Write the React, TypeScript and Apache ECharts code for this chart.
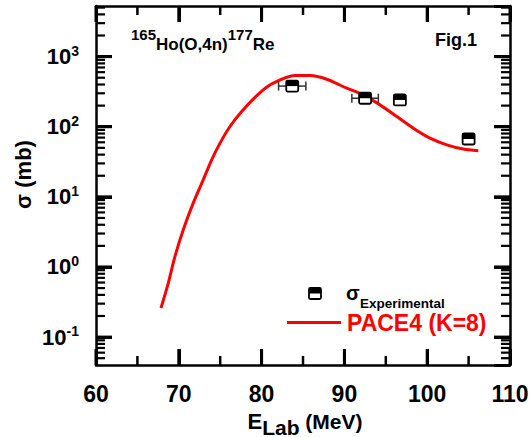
import React, { useEffect, useRef } from "react";
import * as echarts from "echarts";

// PACE4 (K=8) calculation
const curveE = [67.85, 68.73, 69.54, 70.54, 71.75, 72.95, 73.97, 74.98, 76.18, 77.6, 79.81, 81.41, 84.03, 85.85, 87.86, 90.28, 92.28, 94.3, 96.32, 98.32, 100.34, 102.36, 104.36, 106.17];
const curveSigma = [0.26, 0.59, 1.42, 3.4, 8.2, 17.5, 33.8, 58.4, 100.7, 165, 306, 418, 536, 536, 476, 355, 285, 205, 140, 95.5, 68.8, 55.2, 48, 45.4];

// Experimental cross sections
const expE = [83.7, 92.5, 96.7, 105.0];
const expSigma = [380, 255, 241, 66.8];
const expErr = [1.65, 1.6, 0, 0];

// Axes
const xMin = 60;
const xMax = 110;
const xInterval = 10;
const yMin = 0.04;
const yMax = 5270;
const xMajorTicks = [60, 70, 80, 90, 100, 110];
const xMinorTicks = [65, 75, 85, 95, 105];
const yMajorTicks = [0.1, 1, 10, 100, 1000];
const yMinorMantissas = [2, 3, 4, 5, 6, 7, 8, 9];
const yDecades = [0.01, 0.1, 1, 10, 100, 1000];

const FONT = "'Liberation Sans', Arial, sans-serif";

export default function App() {
  const ref = useRef<HTMLDivElement>(null);

  useEffect(() => {
    if (!ref.current) return;
    const chart = echarts.init(ref.current, undefined, { renderer: "svg" });

    const line = () => ({ show: true, onZero: false, lineStyle: { color: "#000", width: 2.5 } });
    const tick = () => ({ show: true, inside: true, length: 16, lineStyle: { color: "#000", width: 3 } });

    const yMinorTicks: number[] = [];
    yDecades.forEach((d) => {
      yMinorMantissas.forEach((m) => {
        const v = m * d;
        if (v > yMin && v < yMax) yMinorTicks.push(v);
      });
    });

    const option: any = {
      animation: false,
      grid: { left: 96, right: 20, top: 6, bottom: 72, containLabel: false, outerBoundsMode: "none" },
      xAxis: [
        {
          type: "value",
          min: xMin,
          max: xMax,
          interval: xInterval,
          position: "bottom",
          splitLine: { show: false },
          axisLine: line(),
          axisTick: tick(),
          name: "{e|E}{s|Lab}{m| (MeV)}",
          nameLocation: "middle",
          nameGap: 44,
          nameMoveOverlap: false,
          nameTextStyle: {
            padding: [0, 0, 0, 4],
            rich: {
              e: { fontFamily: FONT, fontWeight: "bold", fontSize: 22, lineHeight: 24, color: "#000" },
              s: { fontFamily: FONT, fontWeight: "bold", fontSize: 21, lineHeight: 24, padding: [12, 0, 0, 0], color: "#000" },
              m: { fontFamily: FONT, fontWeight: "bold", fontSize: 21, lineHeight: 24, color: "#000" },
            },
          },
          axisLabel: {
            show: true,
            margin: 17,
            fontFamily: FONT,
            fontWeight: "bold",
            fontSize: 23,
            color: "#000",
          },
        },
        {
          type: "value",
          min: xMin,
          max: xMax,
          interval: xInterval,
          position: "top",
          splitLine: { show: false },
          axisLine: line(),
          axisTick: tick(),
          axisLabel: { show: false },
        },
      ],
      yAxis: [
        {
          type: "log",
          logBase: 10,
          min: yMin,
          max: yMax,
          position: "left",
          splitLine: { show: false },
          axisLine: line(),
          axisTick: tick(),
          name: "σ (mb)",
          nameLocation: "middle",
          nameRotate: 90,
          nameGap: 62,
          nameMoveOverlap: false,
          nameTextStyle: {
            fontFamily: FONT,
            fontWeight: "bold",
            fontSize: 22,
            color: "#000",
            padding: [0, 0, 0, 22],
          },
          axisLabel: {
            show: true,
            margin: 17,
            showMinLabel: false,
            showMaxLabel: false,
            formatter: (v: number) => {
              const l = Math.log10(v);
              const r = Math.round(l);
              if (Math.abs(l - r) > 0.01) return "";
              return "{b|10}{s|" + r + "}";
            },
            rich: {
              b: { fontFamily: FONT, fontWeight: "bold", fontSize: 22, lineHeight: 22, color: "#000" },
              s: { fontFamily: FONT, fontWeight: "bold", fontSize: 14, lineHeight: 14, padding: [0, 0, 12, 0], color: "#000" },
            },
          },
        },
        {
          type: "log",
          logBase: 10,
          min: yMin,
          max: yMax,
          position: "right",
          splitLine: { show: false },
          axisLine: line(),
          axisTick: tick(),
          axisLabel: { show: false },
        },
      ],
      series: [
        {
          type: "custom",
          data: [[85, 10]],
          encode: { x: 0, y: 1 },
          z: 5,
          renderItem: (params: any, api: any) => {
            const children: any[] = [];
            const bl = api.coord([xMin, yMin]);
            const tr = api.coord([xMax, yMax]);
            const xt = (v: number, len: number, w: number) => {
              const x = api.coord([v, yMin])[0];
              children.push({ type: "rect", shape: { x: x - w / 2, y: bl[1] - len, width: w, height: len }, style: { fill: "#000" } });
              children.push({ type: "rect", shape: { x: x - w / 2, y: tr[1], width: w, height: len }, style: { fill: "#000" } });
            };
            const yt = (v: number, len: number, w: number) => {
              const y = api.coord([xMin, v])[1];
              children.push({ type: "rect", shape: { x: bl[0], y: y - w / 2, width: len, height: w }, style: { fill: "#000" } });
              children.push({ type: "rect", shape: { x: tr[0] - len, y: y - w / 2, width: len, height: w }, style: { fill: "#000" } });
            };
            xMajorTicks.forEach((v) => xt(v, 16, 3));
            xMinorTicks.forEach((v) => xt(v, 9, 2.5));
            yMajorTicks.forEach((v) => yt(v, 16, 3));
            yMinorTicks.forEach((v) => yt(v, 9, 2.2));
            return { type: "group", children };
          },
        },
        {
          type: "line",
          data: curveE.map((e, i) => [e, curveSigma[i]]),
          smooth: 0.3,
          showSymbol: false,
          symbol: "none",
          lineStyle: { color: "#ff0000", width: 3 },
          z: 3,
        },
        {
          type: "custom",
          data: expE.map((e, i) => [e, expSigma[i], expErr[i]]),
          encode: { x: 0, y: 1 },
          z: 4,
          renderItem: (params: any, api: any) => {
            const e = api.value(0) as number;
            const s = api.value(1) as number;
            const err = api.value(2) as number;
            const p = api.coord([e, s]);
            const w = 12;
            const h = 11;
            const children: any[] = [];
            if (err > 0) {
              const l = api.coord([e - err, s]);
              const r = api.coord([e + err, s]);
              const st = { stroke: "#333", lineWidth: 1.5 };
              children.push({ type: "line", shape: { x1: l[0], y1: p[1], x2: r[0], y2: p[1] }, style: st });
              children.push({ type: "line", shape: { x1: l[0], y1: p[1] - 4.5, x2: l[0], y2: p[1] + 4.5 }, style: st });
              children.push({ type: "line", shape: { x1: r[0], y1: p[1] - 4.5, x2: r[0], y2: p[1] + 4.5 }, style: st });
            }
            children.push({
              type: "rect",
              shape: { x: p[0] - w / 2, y: p[1] - h / 2, width: w, height: h, r: 1.5 },
              style: { fill: "#fff", stroke: "#000", lineWidth: 1.8 },
            });
            children.push({
              type: "rect",
              shape: { x: p[0] - w / 2, y: p[1] - h / 2, width: w, height: h * 0.5 },
              style: { fill: "#000" },
            });
            return { type: "group", children };
          },
        },
      ],
      graphic: [
        {
          type: "text",
          left: 131,
          top: 27,
          style: {
            text: "{s|165}{m|Ho(O,4n)}{s|177}{m|Re}",
            rich: {
              m: { fontFamily: FONT, fontWeight: "bold", fontSize: 17, lineHeight: 18, fill: "#000" },
              s: { fontFamily: FONT, fontWeight: "bold", fontSize: 15, lineHeight: 15, padding: [0, 0, 20, 0], fill: "#000" },
            },
          },
        },
        {
          type: "text",
          left: 435,
          top: 31,
          style: { text: "Fig.1", fontFamily: FONT, fontWeight: "bold", fontSize: 18, fill: "#000" },
        },
        {
          type: "group",
          children: [
            { type: "rect", shape: { x: 309, y: 288, width: 12, height: 11, r: 1.5 }, style: { fill: "#fff", stroke: "#000", lineWidth: 1.8 } },
            { type: "rect", shape: { x: 309, y: 288, width: 12, height: 5.5 }, style: { fill: "#000" } },
          ],
        },
        {
          type: "text",
          x: 346,
          y: 293,
          style: { text: "σ", fontFamily: FONT, fontWeight: "bold", fontSize: 20, fill: "#000", verticalAlign: "middle" },
        },
        {
          type: "text",
          x: 360,
          y: 303,
          style: { text: "Experimental", fontFamily: FONT, fontWeight: "bold", fontSize: 13.5, fill: "#000", verticalAlign: "middle" },
        },
        {
          type: "line",
          shape: { x1: 287, y1: 322.5, x2: 341, y2: 322.5 },
          style: { stroke: "#ff0000", lineWidth: 3 },
        },
        {
          type: "text",
          x: 347,
          y: 323,
          style: { text: "PACE4 (K=8)", fontFamily: FONT, fontWeight: "bold", fontSize: 23, fill: "#ff0000", verticalAlign: "middle" },
        },
      ],
    };

    chart.setOption(option);
    return () => {
      chart.dispose();
    };
  }, []);

  return (
    <div
      ref={ref}
      style={{ position: "fixed", left: 0, top: 0, width: 530, height: 437, background: "#fff" }}
    />
  );
}
